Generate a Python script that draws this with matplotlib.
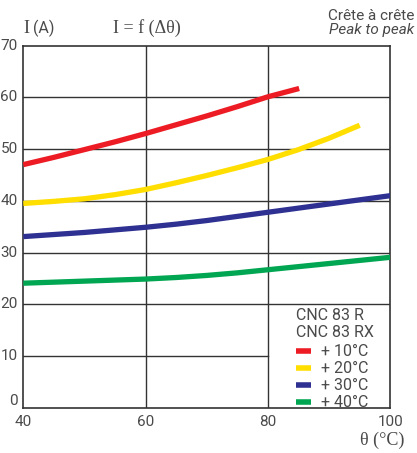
import matplotlib.pyplot as plt
import numpy as np

# current vs. temperature, CNC 83 R / RX
theta_red = [40, 45, 50, 55, 60, 65, 70, 75, 80, 85.1]
i_red = [47.0, 48.4, 49.9, 51.4, 53.0, 54.7, 56.4, 58.2, 60.1, 61.7]

theta_yellow = [40, 45, 50, 55, 60, 65, 70, 75, 80, 85, 90, 95]
i_yellow = [39.5, 39.9, 40.4, 41.2, 42.2, 43.5, 44.9, 46.4, 48.0, 49.9, 52.1, 54.6]

theta_blue = [40, 45, 50, 55, 60, 65, 70, 75, 80, 85, 90, 95, 100]
i_blue = [33.1, 33.5, 33.9, 34.4, 34.9, 35.5, 36.2, 37.0, 37.8, 38.6, 39.4, 40.2, 41.0]

theta_green = [40, 45, 50, 55, 60, 65, 70, 75, 80, 85, 90, 95, 100]
i_green = [24.1, 24.3, 24.5, 24.7, 24.9, 25.2, 25.6, 26.1, 26.7, 27.3, 27.9, 28.5, 29.1]

legend_labels = ['+ 10°C', '+ 20°C', '+ 30°C', '+ 40°C']
colors = ['#ED1C24', '#FFDE00', '#2E3192', '#00A651']

plt.rcParams['font.family'] = ['Roboto', 'DejaVu Sans']
txt = '#4a4a4a'
gridc = '#333333'

fig = plt.figure(figsize=(4.17, 4.53), dpi=100)
ax = fig.add_axes([23.3/417, 45/453, (390.3-23.3)/417, (408-45.5)/453])
ax.set_xlim(40, 100)
ax.set_ylim(0, 70)

# grid: the 10 A line stops at the legend box
for y in [20, 30, 40, 50, 60]:
    ax.plot([40, 100], [y, y], color=gridc, lw=1.0, zorder=1)
ax.plot([40, 80], [10, 10], color=gridc, lw=1.0, zorder=1)
for x in [60, 80]:
    ax.plot([x, x], [0, 70], color=gridc, lw=1.0, zorder=1)

for sp in ax.spines.values():
    sp.set_color(gridc)
    sp.set_linewidth(1.2)

lw = 3.8
ax.plot(theta_red, i_red, color=colors[0], lw=lw, solid_capstyle='butt', zorder=3)
ax.plot(theta_yellow, i_yellow, color=colors[1], lw=lw, solid_capstyle='butt', zorder=3)
ax.plot(theta_blue, i_blue, color=colors[2], lw=lw, solid_capstyle='butt', zorder=3)
ax.plot(theta_green, i_green, color=colors[3], lw=lw, solid_capstyle='butt', zorder=3)

ax.set_xticks([40, 60, 80, 100])
ax.set_yticks(range(0, 80, 10))
ax.tick_params(axis='y', length=0, labelsize=11, colors=txt, pad=4)
ax.tick_params(axis='x', length=0, labelsize=11, colors=txt, pad=5)
ax.set_yticklabels([str(v) for v in range(0, 80, 10)], va='center')
ax.get_yticklabels()[0].set_va('bottom')

# legend block
ax.text(84.6, 17.8, 'CNC 83 R', fontsize=11.5, color=txt, va='center')
ax.text(84.6, 14.5, 'CNC 83 RX', fontsize=11.5, color=txt, va='center')
for k, (lab, c) in enumerate(zip(legend_labels, colors)):
    y = 11.0 - k * 3.3
    ax.plot([84.6, 87.1], [y, y], color=c, lw=4.0, solid_capstyle='butt', clip_on=False)
    ax.text(88.7, y, lab, fontsize=11.5, color=txt, va='center')

# titles and axis captions
fig.text(23/417, 1 - 33/453, 'I', fontsize=13, color=txt, family='Liberation Serif', va='baseline')
fig.text(33/417, 1 - 33/453, '(A)', fontsize=11.5, color=txt, va='baseline')
fig.text(113/417, 1 - 33/453, 'I = f (Δθ)', fontsize=13, color=txt, family='Liberation Serif', va='baseline')
fig.text(414/417, 1 - 20/453, 'Crête à crête', fontsize=11, color=txt, ha='right', va='baseline')
fig.text(414/417, 1 - 34/453, 'Peak to peak', fontsize=11, color=txt, ha='right', va='baseline', style='italic')
fig.text(404/417, 1 - 445/453, 'θ (°C)', fontsize=13, color=txt, family='Liberation Serif', ha='right', va='baseline')

fig.savefig('out.png', dpi=100)
